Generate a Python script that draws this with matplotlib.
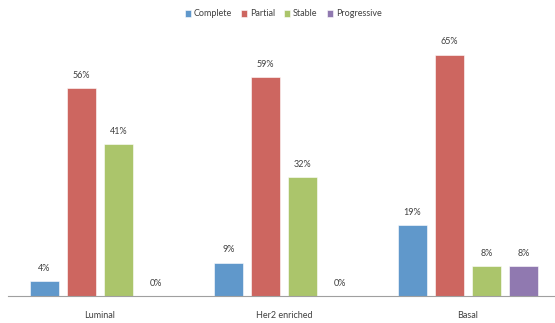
import numpy as np
import matplotlib.pyplot as plt

plt.rcParams['font.family'] = ['Lato', 'DejaVu Sans']

groups = ['Luminal', 'Her2 enriched', 'Basal']
series = ['Complete', 'Partial', 'Stable', 'Progressive']
complete = [4, 9, 19]
partial = [56, 59, 65]
stable = [41, 32, 8]
progressive = [0, 0, 8]
colors = ['#6098CB', '#CD6660', '#ABC56B', '#9079B0']

fig = plt.figure(figsize=(5.55, 3.23), dpi=100)
ax = fig.add_axes([8 / 555, 1 - 296 / 323, 1 - 8 / 555, 260 / 323])

x = np.arange(len(groups))
offsets = [-0.3015, -0.1005, 0.1005, 0.3015]
for vals, name, col, off in zip([complete, partial, stable, progressive], series, colors, offsets):
    bars = ax.bar(x + off, vals, 0.158, color=col, label=name, edgecolor='white', linewidth=0.4)
    for b, v in zip(bars, vals):
        ax.text(b.get_x() + b.get_width() / 2, v + 2.2, f'{v}%', ha='center', va='bottom',
                fontsize=6.5, color='#404040')

ax.set_xlim(-0.5, -0.5 + 547 / 184)
ax.set_ylim(0, 70)
ax.set_yticks([])
ax.set_xticks(x)
ax.set_xticklabels(groups, fontsize=6.5, color='#404040')
ax.tick_params(axis='x', length=0, pad=11)
for s in ['top', 'right', 'left']:
    ax.spines[s].set_visible(False)
ax.spines['bottom'].set_color('#A0A0A0')
ax.spines['bottom'].set_linewidth(0.8)

fig.legend(loc='center', bbox_to_anchor=(283 / 555, 1 - 14 / 323), ncol=4, frameon=False,
           fontsize=6.5, handlelength=0.7, handleheight=0.7, handletextpad=0.3, columnspacing=1.0,
           labelcolor='#404040')

fig.savefig('out.png', dpi=100)
